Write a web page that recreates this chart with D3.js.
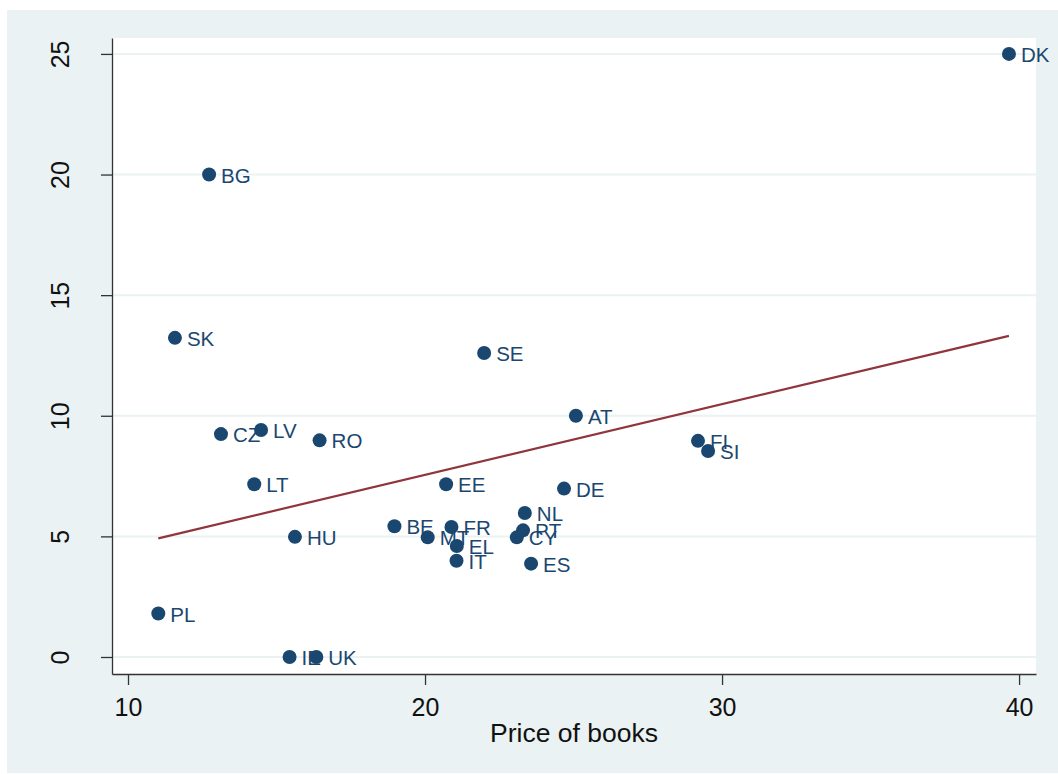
<!DOCTYPE html>
<html>
<head>
<meta charset="utf-8">
<script src="https://cdn.jsdelivr.net/npm/d3@7"></script>
<style>
  html, body { margin: 0; padding: 0; background: #fff; }
  svg text { font-family: "Liberation Sans", Arial, sans-serif; }
</style>
</head>
<body>
<div class="graph"></div>
<script>
// 国家代码 / country codes
const countries = ['BE', 'BG', 'CZ', 'DK', 'DE', 'EE', 'IE', 'EL', 'ES', 'FR', 'IT', 'CY', 'LV',
  'LT', 'HU', 'MT', 'NL', 'AT', 'PL', 'PT', 'RO', 'SI', 'SK', 'FI', 'SE', 'UK']
// x: price of books
const bookPrice = [18.97, 12.73, 13.13, 39.66, 24.68, 20.71, 15.44, 21.07, 23.57, 20.89, 21.06, 23.09, 14.48,
  14.25, 15.62, 20.09, 23.36, 25.08, 11.02, 23.30, 16.45, 29.53, 11.58, 29.19, 21.99, 16.34]
// y values (no axis title in the original)
const yValues = [5.42, 20.0, 9.24, 25.0, 6.98, 7.16, 0.0, 4.60, 3.87, 5.39, 3.99, 4.96, 9.41,
  7.16, 4.98, 4.96, 5.97, 10.0, 1.80, 5.25, 8.98, 8.54, 13.23, 8.96, 12.60, 0.0]
const xTicks = [10, 20, 30, 40]
const yTicks = [0, 5, 10, 15, 20, 25]
const xTitle = 'Price of books'

const W = 1058, H = 774
const plot = { left: 112, top: 38, right: 1036, bottom: 674 }
const navy = '#1a476f', maroon = '#90353b', bg = '#eaf2f3'

const svg = d3.select('.graph').append('svg')
  .attr('width', W).attr('height', H)

// 背景
svg.append('rect').attr('x', 7).attr('y', 10).attr('width', W - 7).attr('height', H - 11).attr('fill', bg)
svg.append('rect').attr('x', plot.left).attr('y', plot.top)
  .attr('width', plot.right - plot.left).attr('height', plot.bottom - plot.top).attr('fill', '#fff')

const x = d3.scaleLinear().domain([9.461, 40.57]).range([plot.left, plot.right])
const y = d3.scaleLinear().domain([-0.705, 25.66]).range([plot.bottom, plot.top])

// grid lines
svg.append('g').selectAll('line').data(yTicks).enter().append('line')
  .attr('x1', plot.left).attr('x2', plot.right)
  .attr('y1', d => y(d)).attr('y2', d => y(d))
  .attr('stroke', bg).attr('stroke-width', 2)

const data = countries.map((c, i) => ({ code: c, px: bookPrice[i], py: yValues[i] }))

// linear fit (OLS)
const mx = d3.mean(data, d => d.px), my = d3.mean(data, d => d.py)
const slope = d3.sum(data, d => (d.px - mx) * (d.py - my)) / d3.sum(data, d => (d.px - mx) ** 2)
const icpt = my - slope * mx
const xr = d3.extent(data, d => d.px)

// labels first, then markers (markers sit on top like the original)
svg.append('g').selectAll('text').data(data).enter().append('text')
  .attr('x', d => x(d.px) + 12).attr('y', d => y(d.py) + 8)
  .attr('font-size', 20.5).attr('fill', navy)
  .text(d => d.code)

svg.append('g').selectAll('circle').data(data).enter().append('circle')
  .attr('cx', d => x(d.px)).attr('cy', d => y(d.py)).attr('r', 7)
  .attr('fill', navy)

svg.append('line')
  .attr('x1', x(xr[0])).attr('y1', y(icpt + slope * xr[0]))
  .attr('x2', x(xr[1])).attr('y2', y(icpt + slope * xr[1]))
  .attr('stroke', maroon).attr('stroke-width', 2.2)

//坐标轴
const yAxis = svg.append('g').attr('transform', `translate(${plot.left},0)`)
  .call(d3.axisLeft(y).tickValues(yTicks).tickSize(11).tickSizeOuter(0).tickFormat(d3.format('d')))
yAxis.selectAll('text')
  .attr('x', 0).attr('dy', 0).attr('text-anchor', 'middle')
  .attr('transform', 'translate(-43,0) rotate(-90)')

const xAxis = svg.append('g').attr('transform', `translate(0,${plot.bottom})`)
  .call(d3.axisBottom(x).tickValues(xTicks).tickSize(11).tickSizeOuter(0).tickFormat(d3.format('d')))
xAxis.selectAll('text').attr('y', 42).attr('dy', 0)

svg.selectAll('.tick text').attr('font-size', 25).attr('fill', '#111')
  .attr('font-family', '"Liberation Sans", Arial, sans-serif')
svg.selectAll('.domain, .tick line').attr('stroke', '#333').attr('stroke-width', 1.3)

svg.append('text')
  .attr('x', (plot.left + plot.right) / 2).attr('y', 742)
  .attr('text-anchor', 'middle').attr('font-size', 26.5).attr('fill', '#111')
  .text(xTitle)
</script>
</body>
</html>
